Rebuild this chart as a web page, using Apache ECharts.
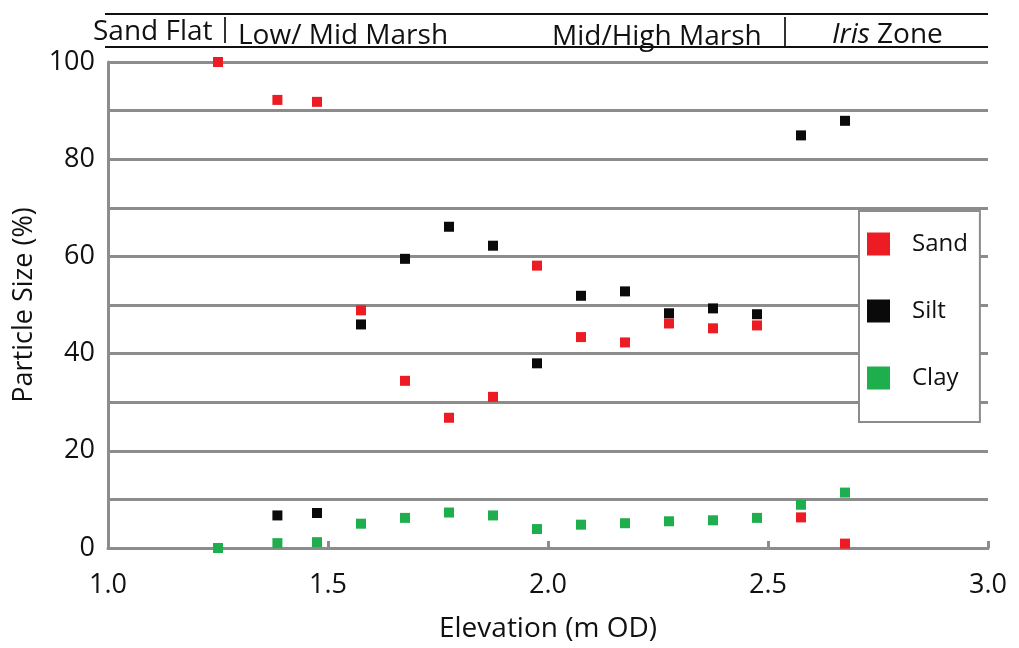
<!DOCTYPE html>
<html>
<head>
<meta charset="utf-8">
<script src="https://cdn.jsdelivr.net/npm/echarts@6/dist/echarts.min.js"></script>
<style>
html,body{margin:0;padding:0;background:#fff;}
#chart{width:1019px;height:648px;}
</style>
</head>
<body>
<div id="chart"></div>
<script>
// Elevation (m OD) of each sample
var elevation = [1.25, 1.385, 1.475, 1.575, 1.675, 1.775, 1.875, 1.975, 2.075, 2.175, 2.275, 2.375, 2.475, 2.575, 2.675];
var sand = [100, 92.2, 91.8, 48.9, 34.4, 26.8, 31.1, 58.1, 43.4, 42.3, 46.2, 45.2, 45.8, 6.3, 0.9];
var silt = [null, 6.7, 7.2, 46.0, 59.5, 66.1, 62.2, 38.0, 51.9, 52.8, 48.3, 49.3, 48.1, 84.9, 87.9];
var clay = [0, 1.0, 1.2, 5.0, 6.2, 7.3, 6.7, 3.9, 4.8, 5.1, 5.5, 5.7, 6.2, 8.9, 11.4];
var seriesNames = ['Sand', 'Silt', 'Clay'];
var zoneLabels = ['Sand Flat', 'Low/ Mid Marsh', 'Mid/High Marsh', 'Iris Zone'];

function pairs(vals) {
  var out = [];
  for (var i = 0; i < elevation.length; i++) {
    if (vals[i] !== null) out.push([elevation[i], vals[i]]);
  }
  return out;
}

var FONT = 'Open Sans';
var GRAY = '#8c8c8c';
var chart = echarts.init(document.getElementById('chart'));
var colors = ['#ed1c24', '#0a0a0a', '#1fae4e'];

var option = {
  animation: false,
  backgroundColor: '#fff',
  textStyle: { fontFamily: FONT },
  grid: { left: 108, right: 31, top: 62, bottom: 97, containLabel: false },
  xAxis: {
    type: 'value', min: 1, max: 3, interval: 0.5,
    name: 'Elevation (m OD)', nameLocation: 'middle', nameGap: 67,
    nameTextStyle: { fontFamily: FONT, fontSize: 28, color: '#111' },
    axisLine: { show: true, lineStyle: { color: GRAY, width: 3 } },
    axisTick: { show: true, inside: true, length: 7, lineStyle: { color: GRAY, width: 3 } },
    axisLabel: { margin: 24, fontFamily: FONT, fontSize: 27, color: '#111', formatter: function (v) { return v.toFixed(1); } },
    splitLine: { show: false }
  },
  yAxis: {
    type: 'value', min: 0, max: 100, interval: 10,
    name: 'Particle Size (%)', nameLocation: 'middle', nameGap: 64,
    nameTextStyle: { fontFamily: FONT, fontSize: 27, color: '#111' },
    axisLine: { show: true, lineStyle: { color: GRAY, width: 3 } },
    axisTick: { show: false },
    axisLabel: { margin: 13, padding: [5, 0, 0, 0], fontFamily: FONT, fontSize: 27, color: '#111', formatter: function (v) { return v % 20 === 0 ? String(v) : ''; } },
    splitLine: { show: true, lineStyle: { color: GRAY, width: 3 } }
  },
  legend: {
    orient: 'vertical', left: 859, top: 211,
    data: seriesNames,
    icon: 'rect', itemWidth: 23, itemHeight: 23, itemGap: 43,
    backgroundColor: '#fff', borderColor: GRAY, borderWidth: 2, borderRadius: 0,
    padding: [21, 12, 32, 8],
    itemStyle: { borderWidth: 0 },
    textStyle: { fontFamily: FONT, fontSize: 24, color: '#111', padding: [0, 0, 0, 17] }
  },
  series: [
    { name: seriesNames[0], type: 'scatter', symbol: 'rect', symbolSize: 10, data: pairs(sand), itemStyle: { color: colors[0], opacity: 1 } },
    { name: seriesNames[1], type: 'scatter', symbol: 'rect', symbolSize: 10, data: pairs(silt), itemStyle: { color: colors[1], opacity: 1 } },
    { name: seriesNames[2], type: 'scatter', symbol: 'rect', symbolSize: 10, data: pairs(clay), itemStyle: { color: colors[2], opacity: 1 } }
  ],
  graphic: [
    { type: 'line', shape: { x1: 105, y1: 14, x2: 988, y2: 14 }, style: { stroke: '#111', lineWidth: 2 } },
    { type: 'line', shape: { x1: 105, y1: 47, x2: 988, y2: 47 }, style: { stroke: '#111', lineWidth: 2 } },
    { type: 'line', shape: { x1: 225, y1: 17, x2: 225, y2: 43 }, style: { stroke: '#333', lineWidth: 2 } },
    { type: 'line', shape: { x1: 785, y1: 17, x2: 785, y2: 46 }, style: { stroke: '#333', lineWidth: 2 } },
    { type: 'text', left: 93, top: 18, style: { text: zoneLabels[0], font: '28px "Open Sans"', fill: '#111' } },
    { type: 'text', left: 238, top: 22, style: { text: zoneLabels[1], font: '28px "Open Sans"', fill: '#111' } },
    { type: 'text', left: 552, top: 23, style: { text: zoneLabels[2], font: '28px "Open Sans"', fill: '#111' } },
    { type: 'text', left: 832, top: 21, style: {
        text: '{i|Iris} {n|Zone}',
        rich: { i: { fontFamily: FONT, fontStyle: 'italic', fontSize: 28, fill: '#111' }, n: { fontFamily: FONT, fontSize: 28, fill: '#111' } },
        fill: '#111', font: '28px "Open Sans"'
    } }
  ]
};
chart.setOption(option);
</script>
</body>
</html>
